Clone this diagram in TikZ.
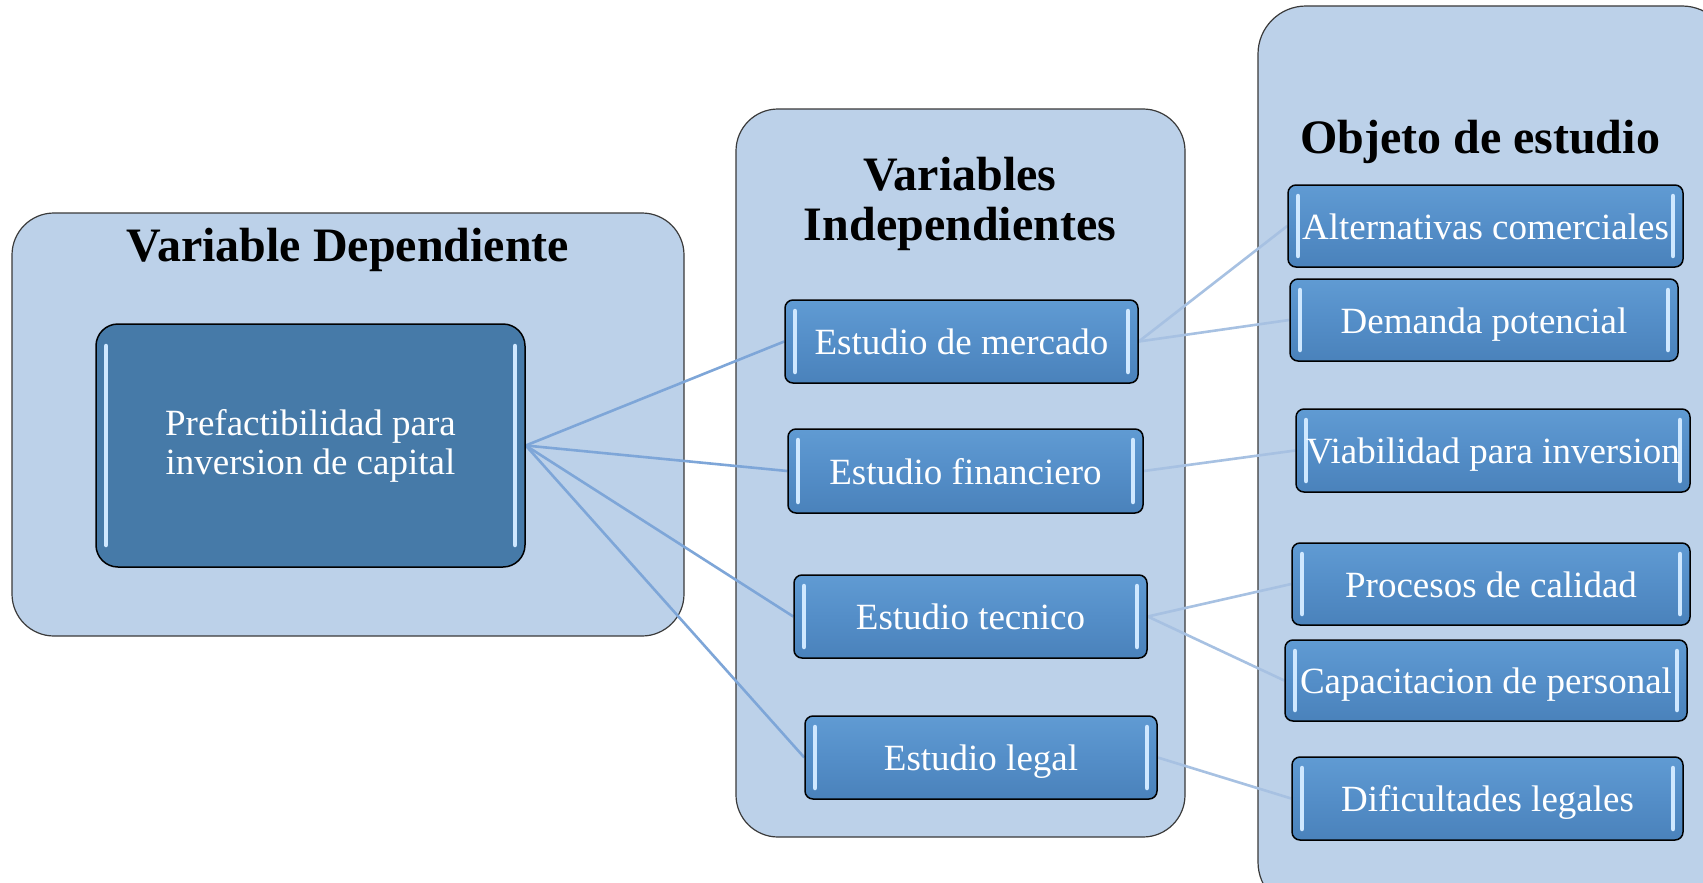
\documentclass[tikz,border=0pt]{standalone}
\usepackage{fontspec}
\setmainfont{Liberation Serif}
\pgfdeclarelayer{back}
\pgfdeclarelayer{mid}
\pgfsetlayers{back,mid,main}
\definecolor{contfill}{HTML}{BCD1E9}
\definecolor{contdraw}{HTML}{3A3A3A}
\definecolor{boxfill}{HTML}{548EC8}
\definecolor{boxtop}{HTML}{609BD3}
\definecolor{boxbot}{HTML}{4A82BB}
\definecolor{darkfill}{HTML}{467AA8}
\definecolor{linkA}{HTML}{7EA6D8}
\definecolor{linkB}{HTML}{A7C1E2}
\definecolor{gloss}{HTML}{CFE8FF}
\tikzset{
  container/.style={draw=contdraw, line width=1.2pt, fill=contfill, rounded corners=42pt, inner sep=0pt},
  glossbar/.style={gloss, line width=4.5pt, line cap=round},
  glossy/.style={path picture={
    \draw[glossbar] ([xshift=10pt,yshift=-#1]path picture bounding box.north west) -- ([xshift=10pt,yshift=#1]path picture bounding box.south west);
    \draw[glossbar] ([xshift=-10pt,yshift=-#1]path picture bounding box.north east) -- ([xshift=-10pt,yshift=#1]path picture bounding box.south east);
  }},
  itembox/.style={draw=black, line width=1.5pt, rounded corners=8pt, top color=boxtop, bottom color=boxbot, middle color=boxfill, text=white, inner sep=0pt, text height=30pt, text depth=4pt, font=\fontsize{37}{40}\selectfont, glossy=11pt},
  darkbox/.style={draw=black, line width=1.5pt, rounded corners=22pt, fill=darkfill, text=white, inner sep=0pt, align=center, font=\fontsize{37}{39}\selectfont, glossy=22pt},
  title/.style={font=\bfseries\fontsize{48}{50}\selectfont, align=center, inner sep=0pt, text=black},
  linkleft/.style={linkA, line width=2.6pt},
  linkright/.style={linkB, line width=2.6pt}
}
\begin{document}
\begin{tikzpicture}[x=1pt,y=-1pt]
\useasboundingbox (0,0) rectangle (1703,883);
\clip (0,0) rectangle (1703,883);
\begin{pgfonlayer}{back}
  \fill[white] (0,0) rectangle (1703,883);
  \node[container, minimum width=672pt, minimum height=423pt] (depC) at (348,424.5) {};
  \node[container, minimum width=449pt, minimum height=728pt] (indC) at (960.5,473) {};
  \node[container, minimum width=472pt, minimum height=904pt, rounded corners=48pt] (objC) at (1494,458) {};
\end{pgfonlayer}
% titles
\node[title, anchor=base] (depT) at (348,261) {Variable Dependiente};
\node[title, anchor=base] (indT) at (960,240) {Variables\\Independientes};
\node[title, anchor=base] (objT) at (1480,153) {Objeto de estudio};
% dependent variable
\node[darkbox, minimum width=429pt, minimum height=243pt] (pre) at (310.5,445.5) {Prefactibilidad para\\inversion de capital};
% independent variables
\node[itembox, minimum width=353pt, minimum height=83pt] (merc) at (961.5,341.5) {Estudio de mercado};
\node[itembox, minimum width=355pt, minimum height=84pt] (fin) at (965.5,471) {Estudio financiero};
\node[itembox, minimum width=353pt, minimum height=83pt] (tec) at (970.5,616.5) {Estudio tecnico};
\node[itembox, minimum width=352pt, minimum height=83pt] (leg) at (981,757.5) {Estudio legal};
% objects of study
\node[itembox, minimum width=395pt, minimum height=82pt] (alt) at (1485.5,226) {Alternativas comerciales};
\node[itembox, minimum width=388pt, minimum height=82pt] (dem) at (1484,320) {Demanda potencial};
\node[itembox, minimum width=394pt, minimum height=83pt] (via) at (1493,450.5) {Viabilidad para inversion};
\node[itembox, minimum width=398pt, minimum height=82pt] (pro) at (1491,584) {Procesos de calidad};
\node[itembox, minimum width=402pt, minimum height=81pt] (cap) at (1486,680.5) {Capacitacion de personal};
\node[itembox, minimum width=391pt, minimum height=83pt] (dif) at (1487.5,798.5) {Dificultades legales};
\begin{pgfonlayer}{mid}
  \draw[linkleft] (pre.east) -- (merc.west);
  \draw[linkleft] (pre.east) -- (fin.west);
  \draw[linkleft] (pre.east) -- (tec.west);
  \draw[linkleft] (pre.east) -- (leg.west);
  \draw[linkright] (merc.east) -- (alt.west);
  \draw[linkright] (merc.east) -- (dem.west);
  \draw[linkright] (fin.east) -- (via.west);
  \draw[linkright] (tec.east) -- (pro.west);
  \draw[linkright] (tec.east) -- (cap.west);
  \draw[linkright] (leg.east) -- (dif.west);
\end{pgfonlayer}
\end{tikzpicture}
\end{document}
